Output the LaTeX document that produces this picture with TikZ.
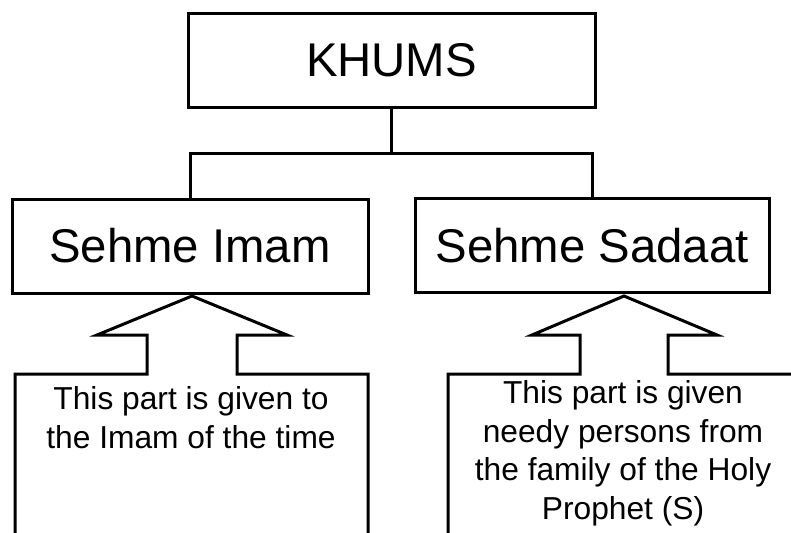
\documentclass[tikz,border=0pt]{standalone}
\usepackage{fontspec}
\setmainfont{Liberation Sans}
\begin{document}
\begin{tikzpicture}[x=0.75pt,y=-0.75pt, line width=2.25pt, line join=miter,
  box/.style={draw, rectangle, inner sep=0pt, minimum height=70.5pt, font=\fontsize{35.5}{42}\selectfont},
  note/.style={align=center, inner sep=0pt, font=\fontsize{23.8}{29}\selectfont},
  callout/.style={draw, line width=2.25pt}]
\useasboundingbox (0,0) rectangle (791,532);
\clip (0,0) rectangle (791,532);
\node[box, minimum width=305.25pt] (khums) at (391.5,60) {KHUMS};
\node[box, minimum width=267pt] (imam) at (190,246) {Sehme Imam};
\node[box, minimum width=265.5pt] (sadaat) at (592,245.5) {Sehme Sadaat};
\coordinate (jn) at (khums.south |- 0,153);
\draw (khums.south) -- (jn);
\draw (imam.north) -- (imam.north |- jn) -- (sadaat.north |- jn) -- (sadaat.north);
% callouts
\draw[callout] (15,545) -- (15,374) -- (147,374) -- (147,335) -- (97,335) -- (192,296)
  -- (287,335) -- (237,335) -- (237,374) -- (368,374) -- (368,545);
\draw[callout] (448,545) -- (448,374) -- (580,374) -- (580,335) -- (532,335) -- (624,296)
  -- (717,335) -- (668,335) -- (668,374) -- (800,374);
\node[note, anchor=north] (n1) at (191,385) {This part is given to\\the Imam of the time};
\node[note, anchor=north] (n2) at (623,379) {This part is given\\needy persons from\\the family of the Holy\\Prophet (S)};
\end{tikzpicture}
\end{document}
